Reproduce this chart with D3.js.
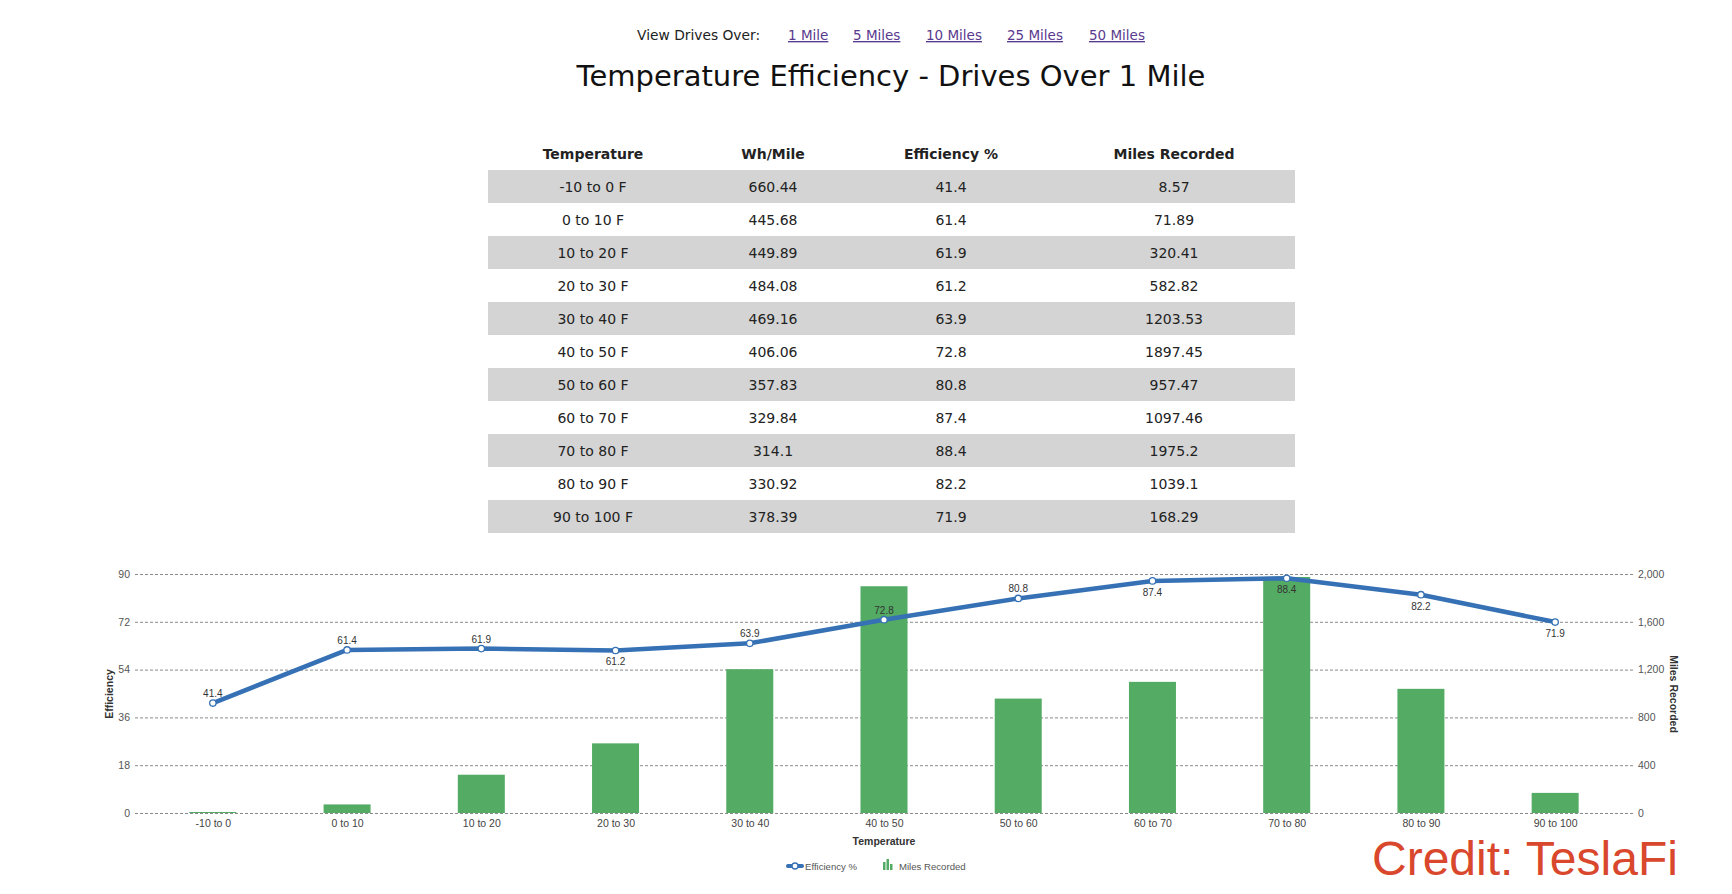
<!DOCTYPE html>
<html>
<head>
<meta charset="utf-8">
<script src="https://cdn.jsdelivr.net/npm/d3@7"></script>
<style>
  body { margin: 0; background: #fff; }
  svg { display: block; }
</style>
</head>
<body>
<svg id="page"></svg>
<script>
// values
const categories = ["-10 to 0", "0 to 10", "10 to 20", "20 to 30", "30 to 40", "40 to 50",
                    "50 to 60", "60 to 70", "70 to 80", "80 to 90", "90 to 100"];
const whPerMile = [660.44, 445.68, 449.89, 484.08, 469.16, 406.06, 357.83, 329.84, 314.1, 330.92, 378.39];
const efficiency = [41.4, 61.4, 61.9, 61.2, 63.9, 72.8, 80.8, 87.4, 88.4, 82.2, 71.9];
const milesRecorded = [8.57, 71.89, 320.41, 582.82, 1203.53, 1897.45, 957.47, 1097.46, 1975.2, 1039.1, 168.29];
const effTicks = [0, 18, 36, 54, 72, 90];
const milesTicks = [0, 400, 800, 1200, 1600, 2000];
const tableHeaders = ["Temperature", "Wh/Mile", "Efficiency %", "Miles Recorded"];
const distanceLinks = ["1 Mile", "5 Miles", "10 Miles", "25 Miles", "50 Miles"];

const width = 1732, height = 894;
const verdana = "'DejaVu Sans', Verdana, sans-serif";
const helv = "'Liberation Sans', Arial, Helvetica, sans-serif";
const blue = "#3571b4", green = "#53ab64";

const svg = d3.select("#page").attr("width", width).attr("height", height);

// ---- top nav + title
svg.append("text")
  .attr("x", 637).attr("y", 40)
  .style("font-family", verdana).style("font-size", "13.8px").attr("fill", "#222")
  .text("View Drives Over:");

let linkX = [788, 853, 926, 1007, 1089];
distanceLinks.forEach(function(l, i) {
  svg.append("text")
    .attr("x", linkX[i]).attr("y", 40)
    .style("font-family", verdana).style("font-size", "13.5px")
    .style("text-decoration", "underline")
    .attr("fill", "#5a3a8e")
    .text(l);
});

svg.append("text")
  .attr("x", 891).attr("y", 86)
  .attr("text-anchor", "middle")
  .style("font-family", verdana).style("font-size", "29px").attr("fill", "#111")
  .text("Temperature Efficiency - Drives Over 1 Mile");

// ---- table
let table = { left: 488, right: 1295, top: 170, rowH: 33 };
let colX = [593, 773, 951, 1174];

let rows = categories.map(function(c, i) {
  return [c + " F", String(whPerMile[i]), String(efficiency[i]), String(milesRecorded[i])];
});

svg.append("g").selectAll("text")
  .data(tableHeaders)
  .join("text")
  .attr("x", (d, i) => colX[i]).attr("y", 159)
  .attr("text-anchor", "middle")
  .style("font-family", verdana).style("font-size", "14px").style("font-weight", "bold")
  .attr("fill", "#222")
  .text(d => d);

let rowG = svg.append("g").selectAll("g")
  .data(rows)
  .join("g")
  .attr("transform", (d, i) => `translate(0,${table.top + i * table.rowH})`);

rowG.filter((d, i) => i % 2 === 0).append("rect")
  .attr("x", table.left).attr("width", table.right - table.left)
  .attr("height", table.rowH)
  .attr("fill", "#d4d4d4");

rowG.selectAll("text")
  .data(d => d)
  .join("text")
  .attr("x", (d, i) => colX[i]).attr("y", 22)
  .attr("text-anchor", "middle")
  .style("font-family", verdana).style("font-size", "14px")
  .attr("fill", "#222")
  .text(d => d);

// ---- chart
let plot = { left: 135, right: 1633, top: 574, bottom: 813 };

let x = d3.scalePoint()
  .domain(categories)
  .range([plot.left, plot.right])
  .padding(0.58);
let yEff = d3.scaleLinear().domain([0, 90]).range([plot.bottom, plot.top]);
let yMiles = d3.scaleLinear().domain([0, 2000]).range([plot.bottom, plot.top]);

// gridlines
svg.append("g").selectAll("line")
  .data(effTicks)
  .join("line")
  .attr("x1", plot.left).attr("x2", plot.right)
  .attr("y1", d => yEff(d) + 0.5).attr("y2", d => yEff(d) + 0.5)
  .attr("stroke", "#8a8a8a").attr("stroke-width", 1)
  .attr("stroke-dasharray", "3,2");

// left axis
let leftAxis = svg.append("g")
  .attr("transform", `translate(${plot.left},0)`)
  .call(d3.axisLeft(yEff).tickValues(effTicks).tickSize(0).tickPadding(5));
leftAxis.select(".domain").remove();
leftAxis.selectAll("text")
  .style("font-family", helv).style("font-size", "10.5px").attr("fill", "#555");

// right axis
let rightAxis = svg.append("g")
  .attr("transform", `translate(${plot.right},0)`)
  .call(d3.axisRight(yMiles).tickValues(milesTicks).tickSize(0).tickPadding(5)
    .tickFormat(d3.format(",")));
rightAxis.select(".domain").remove();
rightAxis.selectAll("text")
  .style("font-family", helv).style("font-size", "10.5px").attr("fill", "#555");

// bottom axis
let bottomAxis = svg.append("g")
  .attr("transform", `translate(0,${plot.bottom})`)
  .call(d3.axisBottom(x).tickSize(0).tickPadding(7));
bottomAxis.select(".domain").remove();
bottomAxis.selectAll("text")
  .style("font-family", helv).style("font-size", "10.5px").attr("fill", "#444");

// axis titles
svg.append("text")
  .attr("transform", "translate(113,694) rotate(-90)")
  .attr("text-anchor", "middle")
  .style("font-family", helv).style("font-size", "10.5px").style("font-weight", "bold")
  .attr("fill", "#333")
  .text("Efficiency");

svg.append("text")
  .attr("transform", "translate(1670,694) rotate(90)")
  .attr("text-anchor", "middle")
  .style("font-family", helv).style("font-size", "10.5px").style("font-weight", "bold")
  .attr("fill", "#333")
  .text("Miles Recorded");

svg.append("text")
  .attr("x", 884).attr("y", 845)
  .attr("text-anchor", "middle")
  .style("font-family", helv).style("font-size", "10.5px").style("font-weight", "bold")
  .attr("fill", "#333")
  .text("Temperature");

// bars
let barW = 47;
svg.append("g").selectAll("rect")
  .data(milesRecorded)
  .join("rect")
  .attr("x", (d, i) => x(categories[i]) - barW / 2)
  .attr("width", barW)
  .attr("y", d => yMiles(d))
  .attr("height", d => plot.bottom - yMiles(d))
  .attr("fill", green);

// efficiency line
let line = d3.line()
  .x((d, i) => x(categories[i]))
  .y(d => yEff(d));

svg.append("path")
  .datum(efficiency)
  .attr("d", line)
  .attr("fill", "none")
  .attr("stroke", blue)
  .attr("stroke-width", 4.5)
  .attr("stroke-linejoin", "round");

svg.append("g").selectAll("circle")
  .data(efficiency)
  .join("circle")
  .attr("cx", (d, i) => x(categories[i]))
  .attr("cy", d => yEff(d))
  .attr("r", 3.2)
  .attr("fill", "#fff")
  .attr("stroke", blue)
  .attr("stroke-width", 1.3);

// labels go under the point when the line dips or sits near the top
let below = (d, i) => d > 85 || (i > 0 && d < efficiency[i - 1]);
svg.append("g").selectAll("text")
  .data(efficiency)
  .join("text")
  .attr("x", (d, i) => x(categories[i]))
  .attr("y", (d, i) => yEff(d) + (below(d, i) ? 15 : -6))
  .attr("text-anchor", "middle")
  .style("font-family", helv).style("font-size", "10px")
  .attr("fill", "#333")
  .text(d => d);

// legend
let legend = svg.append("g");
legend.append("line")
  .attr("x1", 788).attr("x2", 802).attr("y1", 866).attr("y2", 866)
  .attr("stroke", blue).attr("stroke-width", 4).attr("stroke-linecap", "round");
legend.append("circle")
  .attr("cx", 795).attr("cy", 866).attr("r", 3)
  .attr("fill", "#fff").attr("stroke", blue).attr("stroke-width", 1.3);
legend.append("text")
  .attr("x", 805).attr("y", 869.5)
  .style("font-family", helv).style("font-size", "9.6px").attr("fill", "#555")
  .text("Efficiency %");

[[883, 862, 8], [886.5, 859, 11], [890, 864, 6]].forEach(function(b) {
  legend.append("rect")
    .attr("x", b[0]).attr("y", b[1]).attr("width", 2.5).attr("height", b[2])
    .attr("fill", green);
});
legend.append("text")
  .attr("x", 899).attr("y", 869.5)
  .style("font-family", helv).style("font-size", "9.6px").attr("fill", "#555")
  .text("Miles Recorded");

// watermark
svg.append("text")
  .attr("x", 1372).attr("y", 875)
  .style("font-family", helv).style("font-size", "48px")
  .attr("fill", "#d9472d")
  .text("Credit: TeslaFi");
</script>
</body>
</html>
